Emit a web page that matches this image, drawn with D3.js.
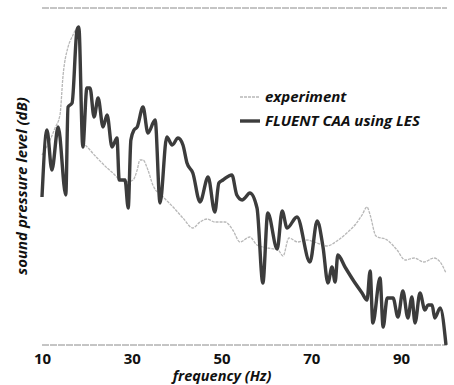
<!DOCTYPE html>
<html>
<head>
<meta charset="utf-8">
<script src="https://cdn.jsdelivr.net/npm/d3@7"></script>
<style>
body { margin: 0; background: #fff; }
text { font-family: "Open Sans", "Noto Sans", sans-serif; fill: #111; }
.tick text { font-size: 15px; font-weight: 700; }
.lbl { font-size: 14.5px; font-weight: 700; font-style: italic; }
.frame { stroke: #8a8a8a; stroke-width: 1; stroke-dasharray: 7,1; fill: none; }
.experiment { fill: none; stroke: #b8b8b8; stroke-width: 1.3; stroke-dasharray: 3,1; }
.les { fill: none; stroke: #3c3c3c; stroke-width: 3.4; stroke-linejoin: round; }
</style>
</head>
<body>
<svg width="454" height="385"></svg>
<script>
var svg = d3.select("svg");

var tickValues = [10, 30, 50, 70, 90];

// frequency (Hz) and level (dB)
var expFreq = [10.0, 11.8, 12.9, 14.0, 14.7, 15.8, 16.7, 17.6, 18.5, 19.1, 20.7, 22.3, 24.5, 25.8, 27.4, 28.9,
  30.3, 31.2, 31.8, 32.5, 33.6, 34.7, 37.0, 39.2, 41.4, 43.6, 45.2, 46.8, 48.5, 50.8, 52.5, 54.1, 56.3,
  57.9, 60.3, 62.6, 63.7, 65.0, 67.0, 69.0, 71.3, 73.5, 75.7, 77.9, 79.9, 81.3, 82.4, 83.1, 84.4, 86.9,
  89.1, 90.9, 92.9, 95.1, 97.3, 98.7, 100.0];
var expLevel = [68.0, 71.0, 73.4, 76.0, 84.0, 89.6, 91.6, 93.0, 88.0, 71.0, 69.0, 67.4, 65.4, 64.4, 63.0, 62.6,
  63.0, 65.0, 67.0, 67.0, 65.0, 62.0, 59.6, 57.6, 55.4, 53.4, 54.6, 55.2, 54.6, 54.6, 53.0, 50.6, 51.6,
  50.0, 49.4, 49.0, 47.8, 51.4, 50.6, 51.0, 50.4, 49.8, 50.8, 52.4, 54.2, 56.0, 57.6, 56.0, 51.8, 51.0,
  49.0, 47.0, 47.4, 46.6, 47.4, 46.6, 44.4];

var lesFreq = [10.0, 11.1, 12.2, 13.6, 15.3, 15.8, 16.7, 17.8, 18.2, 19.1, 20.0, 20.7, 21.6, 22.5, 23.6, 24.5,
  25.6, 26.7, 27.2, 28.5, 29.2, 29.8, 30.5, 31.2, 32.5, 33.6, 35.2, 36.3, 37.8, 39.0, 40.3, 41.4, 42.3,
  43.6, 45.2, 47.0, 48.5, 49.4, 50.3, 52.3, 53.4, 54.6, 55.2, 56.3, 57.9, 59.2, 60.3, 62.4, 63.5, 64.6,
  66.8, 69.7, 71.3, 72.6, 73.7, 74.6, 75.3, 75.9, 77.5, 79.3, 81.3, 82.4, 83.1, 83.7, 85.3, 86.0, 86.9,
  88.2, 89.3, 90.4, 91.5, 92.4, 93.1, 94.2, 95.3, 96.0, 96.9, 97.5, 98.7, 100.0];
var lesLevel = [59.6, 73.0, 65.0, 73.6, 60.0, 77.6, 78.4, 93.0, 93.6, 69.6, 81.4, 81.4, 75.6, 79.4, 73.6, 76.0,
  69.6, 71.4, 63.0, 63.0, 57.4, 71.0, 73.0, 73.6, 77.6, 72.4, 75.0, 58.4, 71.6, 70.0, 71.4, 70.0, 66.4,
  64.4, 58.6, 63.6, 56.6, 62.4, 63.0, 64.0, 60.0, 59.0, 59.4, 60.4, 57.4, 42.4, 56.4, 49.2, 56.8, 53.4,
  55.6, 46.6, 54.8, 49.6, 42.4, 45.6, 42.6, 48.0, 45.6, 43.0, 40.4, 39.0, 44.8, 34.4, 43.4, 33.6, 39.4,
  39.4, 35.6, 40.8, 35.4, 39.6, 34.4, 40.4, 37.0, 38.0, 38.0, 35.4, 37.4, 30.0];

var series = [
  { name: "experiment", cls: "experiment", freq: expFreq, level: expLevel },
  { name: "FLUENT CAA using LES", cls: "les", freq: lesFreq, level: lesLevel }
];

var x = d3.scaleLinear().domain([10, 100]).range([42, 446]);
var y = d3.scaleLinear().domain([30, 97.4]).range([345, 8]);

var line = d3.line()
  .curve(d3.curveMonotoneX)
  .x(function(d) { return x(d[0]); })
  .y(function(d) { return y(d[1]); });

// top and bottom frame lines
svg.append("line").attr("class", "frame")
  .attr("x1", x(10)).attr("x2", x(100) + 1).attr("y1", y(97.4)).attr("y2", y(97.4));
svg.append("line").attr("class", "frame")
  .attr("x1", x(10)).attr("x2", x(100) + 1).attr("y1", y(30)).attr("y2", y(30));

series.forEach(function(s) {
  svg.append("path")
    .datum(d3.zip(s.freq, s.level))
    .attr("class", s.cls)
    .attr("d", line);
});

var xAxis = svg.append("g")
  .attr("transform", "translate(0," + (y(30) + 5) + ")")
  .call(d3.axisBottom(x).tickValues(tickValues).tickSize(0).tickPadding(3));
xAxis.select(".domain").remove();

svg.append("text").attr("class", "lbl")
  .attr("x", 222).attr("y", 381)
  .attr("text-anchor", "middle")
  .text("frequency (Hz)");

svg.append("text").attr("class", "lbl")
  .attr("transform", "translate(27,186) rotate(-90)")
  .attr("text-anchor", "middle")
  .style("font-size", "15px")
  .text("sound pressure level (dB)");

// legend
var legend = svg.selectAll(".legend")
  .data(series)
  .enter().append("g")
  .attr("class", "legend")
  .attr("transform", function(d, i) { return "translate(240," + (97 + i * 24) + ")"; });

legend.append("line")
  .attr("class", function(d) { return d.cls; })
  .attr("x1", 0).attr("x2", 20).attr("y1", 0).attr("y2", 0);

legend.append("text").attr("class", "lbl")
  .attr("x", 25).attr("y", 5)
  .style("font-size", "15px")
  .text(function(d) { return d.name; });
</script>
</body>
</html>
